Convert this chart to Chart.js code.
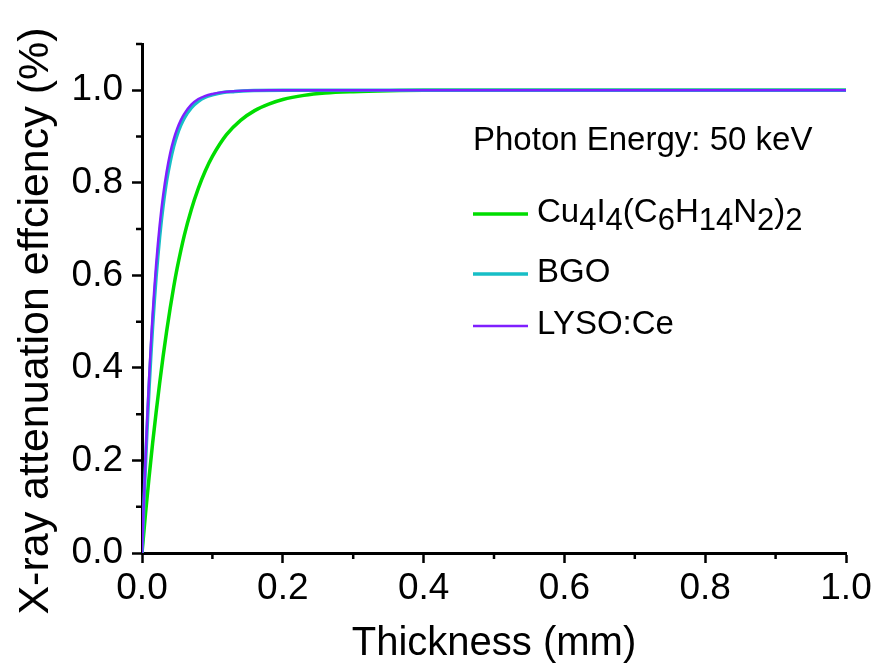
<!DOCTYPE html>
<html>
<head>
<meta charset="utf-8">
<title>X-ray attenuation efficiency</title>
<script src="https://cdn.jsdelivr.net/npm/chart.js@4.4.1/dist/chart.umd.min.js"></script>
<style>
  html, body { margin: 0; padding: 0; background: #fff; }
  #chart { display: block; }
</style>
</head>
<body>
<canvas id="chart" width="882" height="671"></canvas>
<script>
// values (thickness in mm, efficiency as fraction)
var cuThickness  = [0, 0.005, 0.01, 0.015, 0.02, 0.025, 0.03, 0.035, 0.04, 0.045, 0.05, 0.06, 0.07, 0.08, 0.09, 0.1, 0.12, 0.14, 0.16, 0.18, 0.2, 0.23, 0.26, 0.3, 0.35, 0.4, 0.6, 1.0];
var cuEfficiency = [0, 0.085, 0.163, 0.236, 0.303, 0.366, 0.425, 0.479, 0.529, 0.575, 0.616, 0.686, 0.742, 0.788, 0.826, 0.857, 0.904, 0.935, 0.956, 0.97, 0.98, 0.989, 0.994, 0.997, 0.999, 1.0, 1.0, 1.0];

var bgoThickness  = [0, 0.002, 0.004, 0.006, 0.008, 0.01, 0.0125, 0.015, 0.0175, 0.02, 0.0225, 0.025, 0.0275, 0.03, 0.035, 0.04, 0.045, 0.05, 0.055, 0.06, 0.07, 0.08, 0.09, 0.1, 0.115, 0.13, 0.15, 0.2, 0.5, 1.0];
var bgoEfficiency = [0, 0.08, 0.156, 0.228, 0.294, 0.355, 0.425, 0.488, 0.545, 0.596, 0.641, 0.682, 0.719, 0.751, 0.805, 0.846, 0.879, 0.904, 0.924, 0.94, 0.962, 0.976, 0.985, 0.99, 0.995, 0.997, 0.999, 1.0, 1.0, 1.0];

var lysoThickness  = [0, 0.002, 0.004, 0.006, 0.008, 0.01, 0.0125, 0.015, 0.0175, 0.02, 0.0225, 0.025, 0.0275, 0.03, 0.035, 0.04, 0.045, 0.05, 0.055, 0.06, 0.07, 0.08, 0.09, 0.1, 0.115, 0.13, 0.15, 0.18, 0.5, 1.0];
var lysoEfficiency = [0, 0.085, 0.165, 0.24, 0.31, 0.375, 0.448, 0.513, 0.571, 0.622, 0.667, 0.707, 0.742, 0.773, 0.824, 0.864, 0.894, 0.917, 0.935, 0.949, 0.969, 0.981, 0.988, 0.992, 0.996, 0.998, 0.999, 1.0, 1.0, 1.0];

var xTickLabels = ['0.0', '0.2', '0.4', '0.6', '0.8', '1.0'];
var yTickLabels = ['0.0', '0.2', '0.4', '0.6', '0.8', '1.0'];

var legendTitle = 'Photon Energy: 50 keV';
// formula pieces: [text, isSubscript]
var cuLabel = [['Cu', 0], ['4', 1], ['I', 0], ['4', 1], ['(C', 0], ['6', 1], ['H', 0], ['14', 1], ['N', 0], ['2', 1], [')', 0], ['2', 1]];
var seriesLabels = [cuLabel, [['BGO', 0]], [['LYSO:Ce', 0]]];

var FONT = '"Liberation Sans", Arial, Helvetica, sans-serif';
Chart.defaults.font.family = FONT;
Chart.defaults.color = '#000';

function toPoints(xs, ys) {
    return xs.map(function(x, i) { return { x: x, y: ys[i] }; });
}

function isMinor(value) {
    return Math.round(value * 10) % 2 !== 0;
}

// short minor ticks, drawn through the scales, plus the y title
var minorTicks = {
    id: 'minorTicks',
    afterDraw: function(chart) {
        var ctx = chart.ctx;
        var xs = chart.scales.x, ys = chart.scales.y;
        ctx.save();
        ctx.strokeStyle = '#000';
        ctx.lineWidth = 2.5;
        ctx.beginPath();
        xs.ticks.forEach(function(t) {
            if (!isMinor(t.value)) return;
            var px = xs.getPixelForValue(t.value);
            ctx.moveTo(px, xs.top);
            ctx.lineTo(px, xs.top + 6);
        });
        ys.ticks.forEach(function(t) {
            if (!isMinor(t.value)) return;
            var py = ys.getPixelForValue(t.value);
            ctx.moveTo(ys.right, py);
            ctx.lineTo(ys.right - 6, py);
        });
        ctx.stroke();

        ctx.fillStyle = '#000';
        ctx.font = '43px ' + FONT;
        ctx.translate(36, 321);
        ctx.rotate(-Math.PI / 2);
        ctx.textAlign = 'center';
        ctx.textBaseline = 'middle';
        ctx.fillText('X-ray attenuation effciency (%)', 0, 0);
        ctx.restore();
    }
};

// in-plot legend with subscripts
var formulaLegend = {
    id: 'formulaLegend',
    afterDraw: function(chart) {
        var ctx = chart.ctx;
        ctx.save();
        ctx.fillStyle = '#000';
        ctx.textBaseline = 'alphabetic';
        ctx.textAlign = 'left';
        ctx.font = '33px ' + FONT;
        ctx.fillText(legendTitle, 473, 150);

        var baselines = [222, 282, 334];
        chart.data.datasets.forEach(function(ds, i) {
            var base = baselines[i];
            ctx.strokeStyle = ds.borderColor;
            ctx.lineWidth = ds.borderWidth;
            ctx.beginPath();
            ctx.moveTo(473, base - 8);
            ctx.lineTo(528, base - 8);
            ctx.stroke();

            var x = 537;
            seriesLabels[i].forEach(function(part) {
                ctx.font = (part[1] ? '31px ' : '33px ') + FONT;
                ctx.fillText(part[0], x, base + (part[1] ? 8 : 0));
                x += ctx.measureText(part[0]).width;
            });
        });
        ctx.restore();
    }
};

function majorTickColor(c) {
    return c.tick && isMinor(c.tick.value) ? 'rgba(0,0,0,0)' : '#000';
}

var ctx = document.getElementById('chart').getContext('2d');
var chart = new Chart(ctx, {
    type: 'line',
    data: {
        datasets: [{
            label: 'Cu4I4(C6H14N2)2',
            data: toPoints(cuThickness, cuEfficiency),
            borderColor: '#00DD00',
            borderWidth: 3.5,
            order: 3
        }, {
            label: 'BGO',
            data: toPoints(bgoThickness, bgoEfficiency),
            borderColor: '#17BEC6',
            borderWidth: 3.5,
            order: 2
        }, {
            label: 'LYSO:Ce',
            data: toPoints(lysoThickness, lysoEfficiency),
            borderColor: '#7F1FFF',
            borderWidth: 2.5,
            order: 1
        }]
    },
    options: {
        responsive: false,
        animation: false,
        layout: { padding: { top: 44, right: 36, left: 0, bottom: 0 } },
        elements: {
            point: { radius: 0 },
            line: { cubicInterpolationMode: 'monotone', fill: false }
        },
        plugins: {
            legend: { display: false },
            tooltip: { enabled: false }
        },
        scales: {
            x: {
                type: 'linear',
                min: 0,
                max: 1,
                afterFit: function(scale) { scale.height = 118; },
                border: { display: true, color: '#000', width: 3 },
                grid: {
                    drawOnChartArea: false,
                    tickLength: 10,
                    tickWidth: 2.5,
                    tickColor: majorTickColor
                },
                ticks: {
                    stepSize: 0.1,
                    autoSkip: false,
                    maxRotation: 0,
                    padding: 4,
                    font: { size: 37 },
                    callback: function(value) {
                        var k = Math.round(value * 10);
                        return k % 2 === 0 ? xTickLabels[k / 2] : '';
                    }
                },
                title: {
                    display: true,
                    text: 'Thickness (mm)',
                    font: { size: 40 },
                    padding: { top: 0, bottom: 3 }
                }
            },
            y: {
                min: 0,
                max: 1.1,
                afterFit: function(scale) { scale.width = 142; },
                border: { display: true, color: '#000', width: 3 },
                grid: {
                    drawOnChartArea: false,
                    tickLength: 10,
                    tickWidth: 2.5,
                    tickColor: majorTickColor
                },
                ticks: {
                    stepSize: 0.1,
                    autoSkip: false,
                    padding: 9,
                    font: { size: 37 },
                    callback: function(value) {
                        var k = Math.round(value * 10);
                        return k % 2 === 0 ? yTickLabels[k / 2] : '';
                    }
                }
            }
        }
    },
    plugins: [minorTicks, formulaLegend]
});
</script>
</body>
</html>
